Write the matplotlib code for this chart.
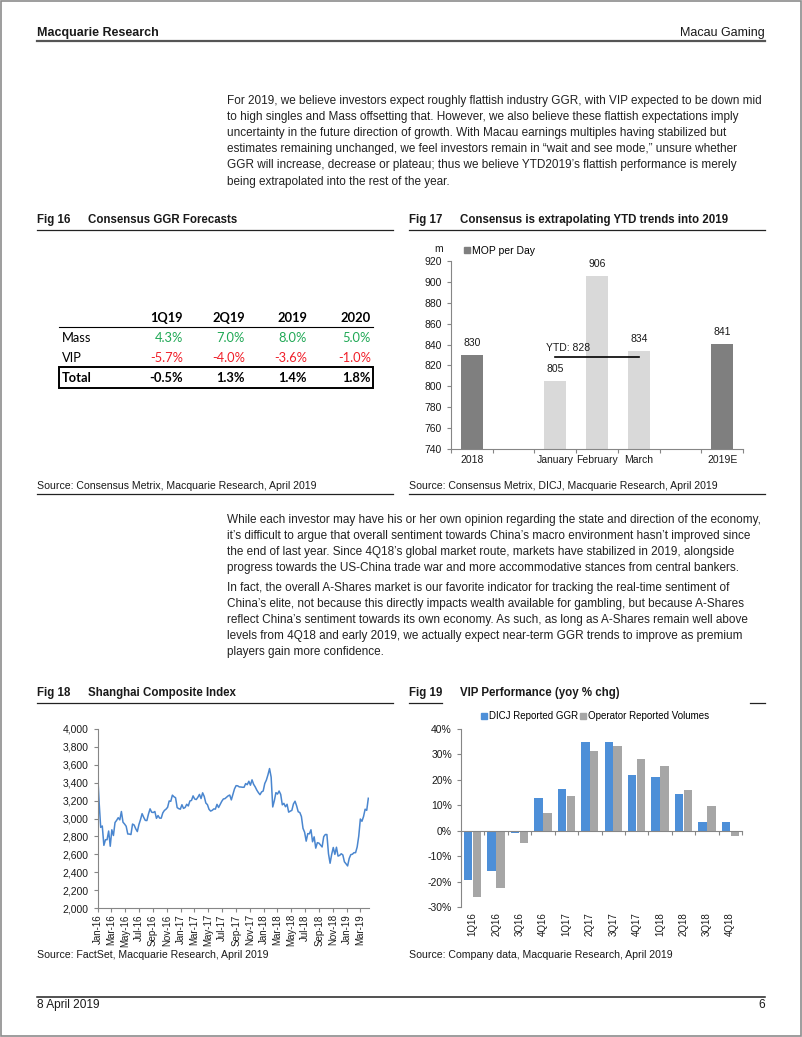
import numpy as np
import pandas as pd
import matplotlib
matplotlib.use("Agg")
import matplotlib.pyplot as plt
import matplotlib.dates as mdates
from matplotlib.lines import Line2D
from matplotlib.patches import Rectangle
from matplotlib.ticker import FuncFormatter, MultipleLocator

W, H = 802, 1037
plt.rcParams['font.family'] = ['Liberation Sans', 'DejaVu Sans']

# ---- data ----
# Fig 16 table
tbl_cols = ['1Q19', '2Q19', '2019', '2020']
tbl_rows = ['Mass', 'VIP', 'Total']
mass_growth = ['4.3%', '7.0%', '8.0%', '5.0%']
vip_growth = ['-5.7%', '-4.0%', '-3.6%', '-1.0%']
total_growth = ['-0.5%', '1.3%', '1.4%', '1.8%']

# Fig 17 MOP per day (m)
mop_cats = ['2018', '', 'January', 'February', 'March', '', '2019E']
mop_vals = [830, np.nan, 805, 906, 834, np.nan, 841]
mop_annual = [True, False, False, False, False, False, True]
ytd_avg = 828

# Fig 18 Shanghai Composite, weekly (Fridays from 1 Jan 2016)
sh_2016 = [3539, 3186, 2901, 2916, 2700, 2763, 2763, 2860, 2690, 2874, 2810, 2955, 2979,
           3009, 2985, 3078, 2959, 2938, 2913, 2827, 2826, 2821, 2938, 2927, 2885, 2854,
           2932, 2988, 3054, 3013, 2979, 2977, 3050, 3108, 3070, 3067, 3078, 3002, 3033,
           3004, 3004, 3063, 3090, 3104, 3125, 3196, 3192, 3261, 3243, 3232, 3122, 3110, 3104]
sh_2017 = [3154, 3113, 3123, 3159, 3140, 3196, 3202, 3253, 3218, 3212, 3237, 3269, 3223,
           3287, 3246, 3173, 3155, 3103, 3083, 3091, 3107, 3105, 3158, 3123, 3157, 3192,
           3218, 3222, 3237, 3253, 3262, 3208, 3268, 3331, 3367, 3365, 3353, 3352, 3349,
           3349, 3390, 3378, 3416, 3372, 3432, 3382, 3353, 3317, 3289, 3266, 3297, 3307]
sh_2018 = [3391, 3429, 3488, 3558, 3462, 3129, 3199, 3289, 3273, 3307, 3269, 3153, 3169,
           3131, 3159, 3071, 3082, 3091, 3163, 3193, 3141, 3075, 3067, 3022, 2890, 2847,
           2747, 2831, 2829, 2874, 2740, 2795, 2669, 2730, 2725, 2703, 2682, 2797, 2821,
           2821, 2606, 2500, 2599, 2676, 2599, 2679, 2580, 2588, 2606, 2593, 2516, 2494]
sh_2019 = [2470, 2554, 2596, 2601, 2618, 2618, 2682, 2804, 2994, 2969, 3022, 3104, 3091, 3226]
sh_dates = pd.date_range('2016-01-01', periods=171, freq='W-FRI')
sh_vals = sh_2016 + sh_2017 + sh_2018 + sh_2019

# Fig 19 VIP performance (yoy %)
vip_q = ['1Q16', '2Q16', '3Q16', '4Q16', '1Q17', '2Q17', '3Q17', '4Q17',
         '1Q18', '2Q18', '3Q18', '4Q18']
dicj_ggr = [-19.3, -15.7, -1.0, 12.7, 16.6, 34.7, 35.0, 21.9, 21.0, 14.4, 3.6, 3.3]
op_volumes = [-25.9, -22.6, -4.8, 7.0, 13.5, 31.4, 33.4, 28.3, 25.5, 16.2, 9.9, -2.0]

para1 = [
    "For 2019, we believe investors expect roughly flattish industry GGR, with VIP expected to be down mid",
    "to high singles and Mass offsetting that. However, we also believe these flattish expectations imply",
    "uncertainty in the future direction of growth. With Macau earnings multiples having stabilized but",
    "estimates remaining unchanged, we feel investors remain in \u201cwait and see mode,\u201d unsure whether",
    "GGR will increase, decrease or plateau; thus we believe YTD2019\u2019s flattish performance is merely",
    "being extrapolated into the rest of the year.",
]
para2 = [
    "While each investor may have his or her own opinion regarding the state and direction of the economy,",
    "it\u2019s difficult to argue that overall sentiment towards China\u2019s macro environment hasn\u2019t improved since",
    "the end of last year. Since 4Q18\u2019s global market route, markets have stabilized in 2019, alongside",
    "progress towards the US-China trade war and more accommodative stances from central bankers.",
]
para3 = [
    "In fact, the overall A-Shares market is our favorite indicator for tracking the real-time sentiment of",
    "China\u2019s elite, not because this directly impacts wealth available for gambling, but because A-Shares",
    "reflect China\u2019s sentiment towards its own economy. As such, as long as A-Shares remain well above",
    "levels from 4Q18 and early 2019, we actually expect near-term GGR trends to improve as premium",
    "players gain more confidence.",
]

TXT = '#1a1a1a'
AXC = '#868686'
BODY = 8.45
SRC = 7.55
TICK = 7.5


def rect(l, t, r, b):
    return [l / W, 1 - b / H, (r - l) / W, (b - t) / H]


fig = plt.figure(figsize=(W / 100, H / 100), dpi=100)

# page layer in pixel coords
pg = fig.add_axes([0, 0, 1, 1])
pg.set_xlim(0, W)
pg.set_ylim(H, 0)
pg.axis('off')

pg.add_patch(Rectangle((1, 1), W - 2.5, H - 2.5, fill=False, ec='#8c8c8c', lw=1.2))

pg.text(37, 33, 'Macquarie Research', fontsize=9, fontweight='bold', va='center', color=TXT)
pg.text(765, 33, 'Macau Gaming', fontsize=9, ha='right', va='center', color=TXT)
pg.plot([37, 765], [41, 41], color='#555555', lw=1.6)

pg.plot([37, 765], [997, 997], color='#222222', lw=1.1)
pg.text(37, 1005, '8 April 2019', fontsize=8.6, va='center', color=TXT)
pg.text(765, 1005, '6', fontsize=8.6, ha='right', va='center', color=TXT)

for i, line in enumerate(para1):
    pg.text(227, 101 + 16.1 * i, line, fontsize=BODY, va='center', color='#222222')
for i, line in enumerate(para2):
    pg.text(227, 520 + 16 * i, line, fontsize=BODY, va='center', color='#222222')
for i, line in enumerate(para3):
    pg.text(227, 588 + 16 * i, line, fontsize=BODY, va='center', color='#222222')

# figure titles and rules
for x0, y0, num, title in [(37, 220, 'Fig 16', 'Consensus GGR Forecasts'),
                           (409, 220, 'Fig 17', 'Consensus is extrapolating YTD trends into 2019'),
                           (37, 693, 'Fig 18', 'Shanghai Composite Index'),
                           (409, 693, 'Fig 19', 'VIP Performance (yoy % chg)')]:
    pg.text(x0, y0, num, fontsize=8.3, fontweight='bold', va='center', color=TXT)
    pg.text(x0 + 51, y0, title, fontsize=8.3, fontweight='bold', va='center', color=TXT)
pg.plot([37, 393], [230, 230], color='#222222', lw=0.9)
pg.plot([409, 765], [230, 230], color='#222222', lw=0.9)
pg.plot([37, 393], [703, 703], color='#222222', lw=0.9)
pg.plot([409, 442], [703, 703], color='#222222', lw=0.9)
pg.plot([750, 765], [703, 703], color='#222222', lw=0.9)

pg.text(37, 486, 'Source: Consensus Metrix, Macquarie Research, April 2019', fontsize=SRC, va='center', color=TXT)
pg.text(409, 486, 'Source: Consensus Metrix, DICJ, Macquarie Research, April 2019', fontsize=SRC, va='center', color=TXT)
pg.plot([37, 393], [494, 494], color='#222222', lw=0.9)
pg.plot([409, 765], [494, 494], color='#222222', lw=0.9)
pg.text(37, 955, 'Source: FactSet, Macquarie Research, April 2019', fontsize=SRC, va='center', color=TXT)
pg.text(409, 955, 'Source: Company data, Macquarie Research, April 2019', fontsize=SRC, va='center', color=TXT)

# ---- Fig 16 table ----
TF = ['Lato', 'DejaVu Sans']
TFS = 9.3
col_x = [183, 245, 307, 371]
for cx, c in zip(col_x, tbl_cols):
    pg.text(cx, 318, c, fontsize=TFS, fontweight='bold', ha='right', va='center', family=TF, color='black')
pg.plot([59, 373], [327, 327], color='black', lw=0.8)
row_y = [338, 358, 378]
row_vals = [mass_growth, vip_growth, total_growth]
row_cols = ['#1fa855', '#f0202a', 'black']
for ry, name, vals, col in zip(row_y, tbl_rows, row_vals, row_cols):
    bold = 'bold' if name == 'Total' else 'normal'
    pg.text(62, ry, name, fontsize=TFS, fontweight=bold, va='center', family=TF, color='black')
    for cx, v in zip(col_x, vals):
        pg.text(cx, ry, v, fontsize=TFS, fontweight=bold, ha='right', va='center', family=TF, color=col)
pg.add_patch(Rectangle((59, 367), 314, 21, fill=False, ec='black', lw=1.4))


def style_axes(ax):
    for s in ['top', 'right']:
        ax.spines[s].set_visible(False)
    for s in ['left', 'bottom']:
        ax.spines[s].set_color(AXC)
        ax.spines[s].set_linewidth(0.8)
    ax.tick_params(colors=AXC, labelcolor=TXT, labelsize=TICK, width=0.8, length=3)
    ax.set_facecolor('none')


# ---- Fig 17 ----
ax17 = fig.add_axes(rect(451, 261, 743, 449))
style_axes(ax17)
xpos = np.arange(len(mop_cats))
bar_cols = ['#7f7f7f' if a else '#d9d9d9' for a in mop_annual]
ax17.bar(xpos, np.array(mop_vals) - 740, bottom=740, width=0.53, color=bar_cols)
for x, v in zip(xpos, mop_vals):
    if not np.isnan(v):
        ax17.annotate(f'{v:.0f}', (x, v), xytext=(0, 5), textcoords='offset points',
                      ha='center', va='bottom', fontsize=TICK, color=TXT)
ax17.plot([2, 4], [ytd_avg, ytd_avg], color='black', lw=1.2)
ax17.annotate(f'YTD: {ytd_avg}', (2, ytd_avg), xytext=(-7, 3), textcoords='offset points',
              ha='left', va='bottom', fontsize=TICK, color=TXT)
ax17.set_ylim(740, 920)
ax17.set_xlim(-0.5, 6.5)
ax17.yaxis.set_major_locator(MultipleLocator(20))
ax17.set_xticks(xpos)
ax17.set_xticklabels(mop_cats)
ax17.set_xticks(np.arange(-0.5, 7, 1), minor=True)
ax17.tick_params(axis='x', which='major', length=0, pad=4)
ax17.tick_params(axis='x', which='minor', length=3, color=AXC, width=0.8)
ax17.text(-0.027, 1.035, 'm', transform=ax17.transAxes, fontsize=TICK, ha='right', va='bottom', color=TXT)
ax17.legend(handles=[Line2D([], [], marker='s', color='#7f7f7f', ls='', markersize=4)],
            labels=['MOP per Day'], loc='upper left', bbox_to_anchor=(464 / W, 1 - 246 / H),
            bbox_transform=fig.transFigure, frameon=False, fontsize=TICK,
            handlelength=0.6, handletextpad=0.2, borderpad=0, borderaxespad=0)

# ---- Fig 18 ----
ax18 = fig.add_axes(rect(97.5, 729, 369, 908))
style_axes(ax18)
ax18.plot(sh_dates, sh_vals, color='#4a86cf', lw=1.1)
ax18.set_ylim(2000, 4000)
ax18.set_xlim(pd.Timestamp('2016-01-01'), pd.Timestamp('2019-04-08'))
ax18.yaxis.set_major_locator(MultipleLocator(200))
ax18.yaxis.set_major_formatter(FuncFormatter(lambda v, p: f'{v:,.0f}'))
ax18.xaxis.set_major_locator(mdates.MonthLocator(bymonth=[1, 3, 5, 7, 9, 11]))
ax18.xaxis.set_major_formatter(mdates.DateFormatter('%b-%y'))
ax18.tick_params(axis='x', labelrotation=90, labelsize=7, pad=1.5)

# ---- Fig 19 ----
ax19 = fig.add_axes(rect(461, 729, 742, 907))
style_axes(ax19)
qx = np.arange(len(vip_q))
ax19.bar(qx - 0.19, dicj_ggr, width=0.36, color='#4d8fd8', label='DICJ Reported GGR')
ax19.bar(qx + 0.19, op_volumes, width=0.36, color='#a6a6a6', label='Operator Reported Volumes')
ax19.set_ylim(-30, 40)
ax19.set_xlim(-0.5, 11.5)
ax19.yaxis.set_major_locator(MultipleLocator(10))
ax19.yaxis.set_major_formatter(FuncFormatter(lambda v, p: f'{v:.0f}%'))
ax19.spines['bottom'].set_position(('data', 0))
ax19.set_xticks(np.arange(-0.5, 12, 1))
ax19.set_xticklabels([])
for x, q in zip(qx, vip_q):
    ax19.text(x, -0.03, q, transform=ax19.get_xaxis_transform(), rotation=90,
              ha='center', va='top', fontsize=7, color=TXT)
h1 = Line2D([], [], marker='s', color='#4d8fd8', ls='', markersize=4)
h2 = Line2D([], [], marker='s', color='#a6a6a6', ls='', markersize=4)
ax19.legend(handles=[h1, h2], labels=['DICJ Reported GGR', 'Operator Reported Volumes'],
            loc='upper center', bbox_to_anchor=(595 / W, 1 - 711 / H), bbox_transform=fig.transFigure,
            ncol=2, frameon=False, fontsize=7, handlelength=0.6, handletextpad=0.2,
            columnspacing=0.2, borderpad=0, borderaxespad=0)

fig.savefig('out.png', dpi=100)
